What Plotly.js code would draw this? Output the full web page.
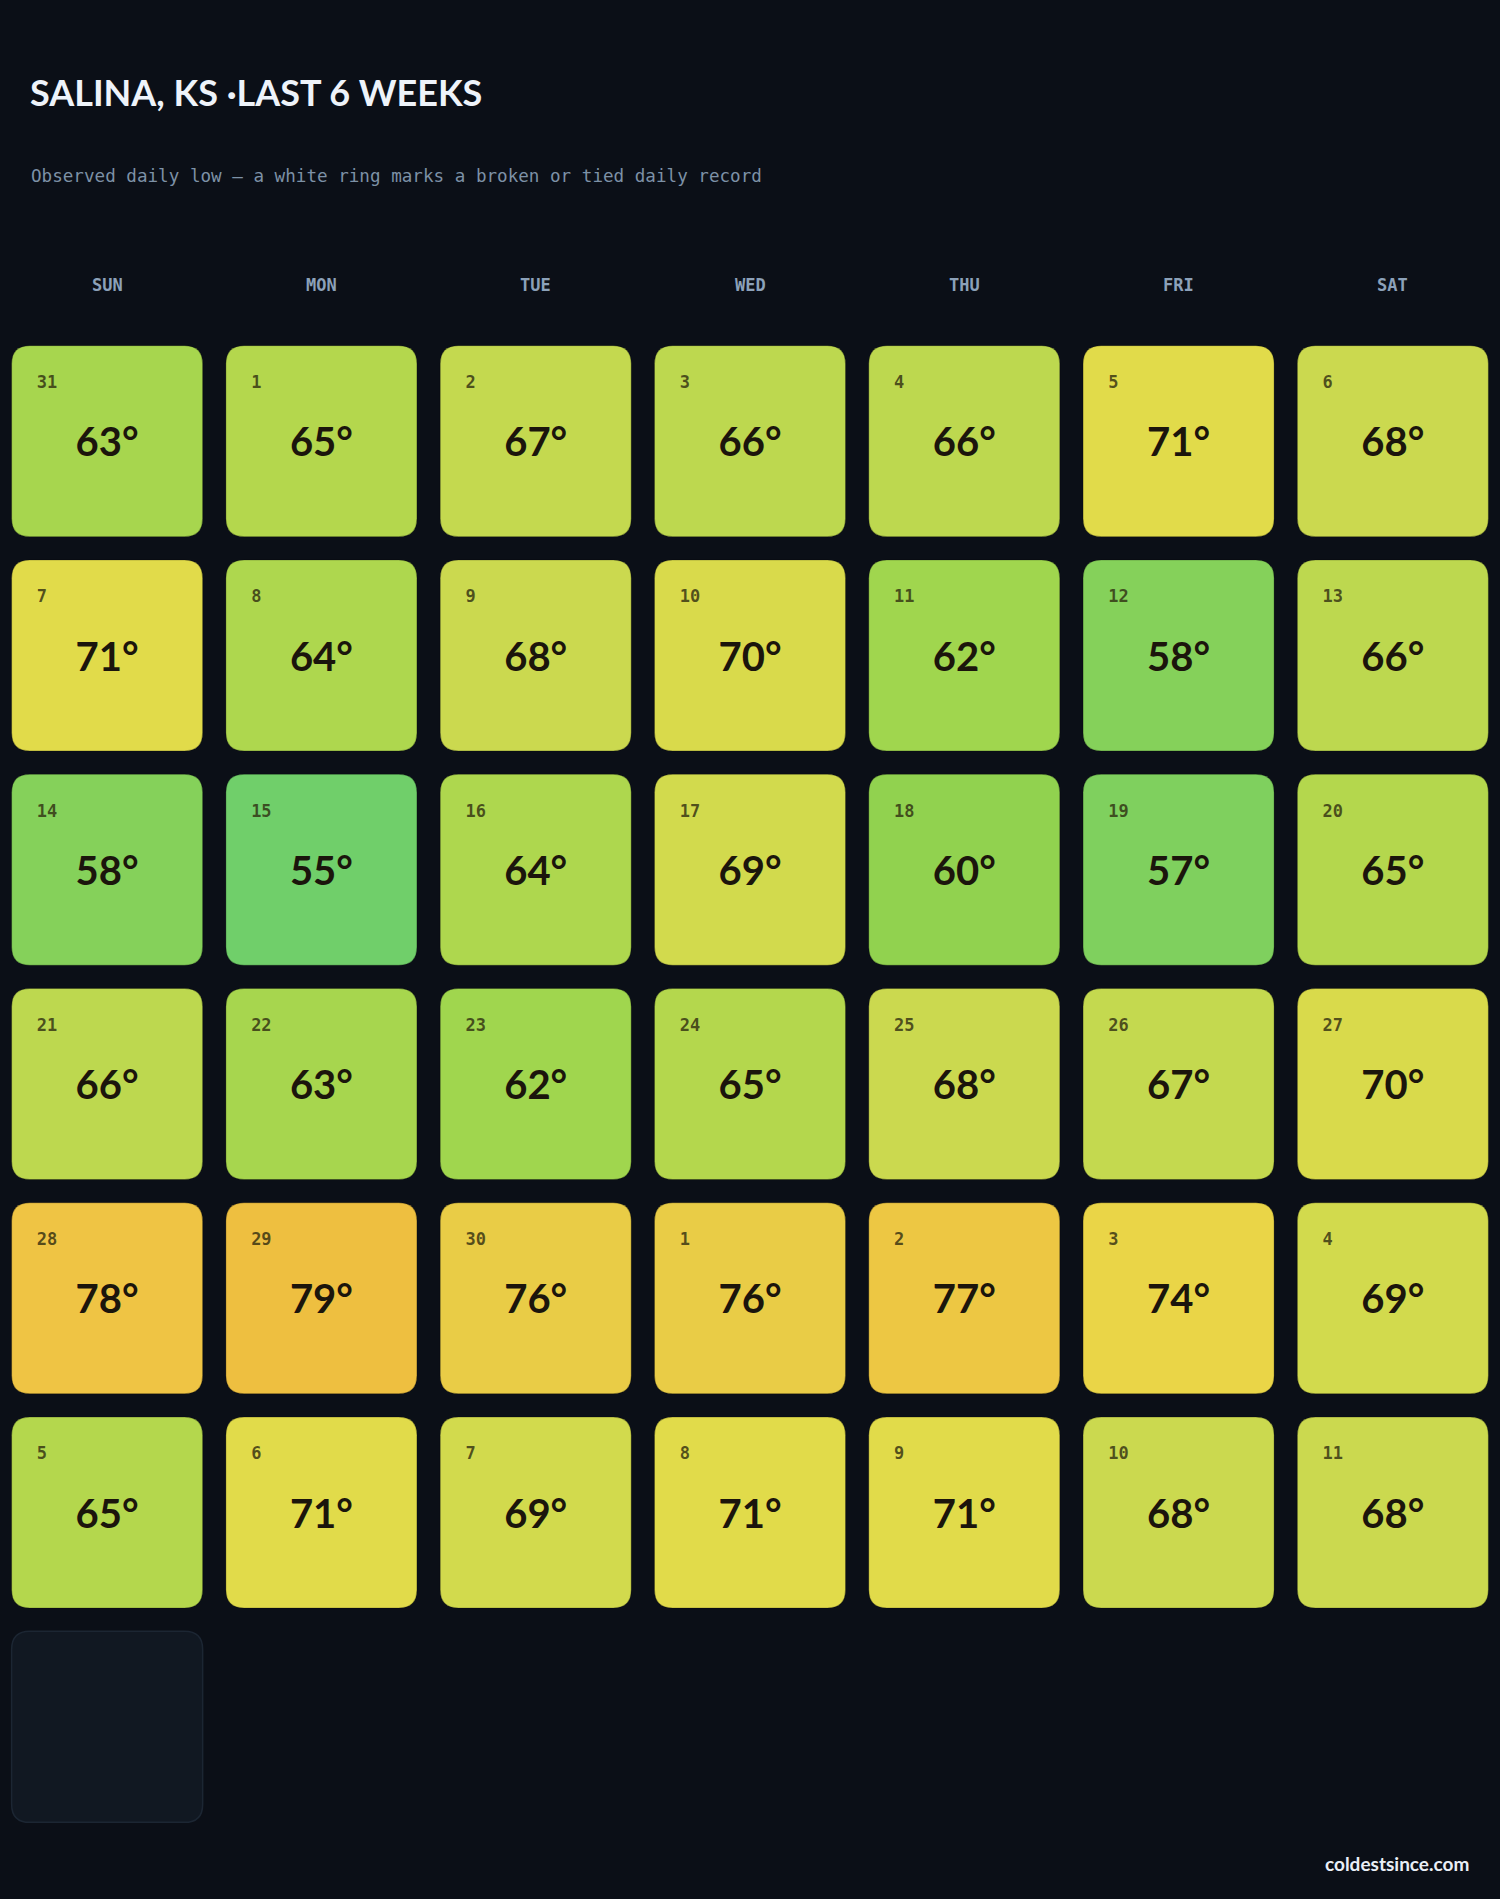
<!DOCTYPE html>
<html>
<head>
<meta charset="utf-8">
<script src="https://cdn.plot.ly/plotly-3.0.1.min.js"></script>
<style>
  html, body { margin: 0; padding: 0; background: #0b0f17; }
  #chart { width: 1500px; height: 1899px; }
</style>
</head>
<body>
<div id="chart"></div>
<script>
// ---- data ----
const weekdays = ['SUN', 'MON', 'TUE', 'WED', 'THU', 'FRI', 'SAT'];
const days = [31, 1, 2, 3, 4, 5, 6,
              7, 8, 9, 10, 11, 12, 13,
              14, 15, 16, 17, 18, 19, 20,
              21, 22, 23, 24, 25, 26, 27,
              28, 29, 30, 1, 2, 3, 4,
              5, 6, 7, 8, 9, 10, 11,
              null];
const lows = [63, 65, 67, 66, 66, 71, 68,
              71, 64, 68, 70, 62, 58, 66,
              58, 55, 64, 69, 60, 57, 65,
              66, 63, 62, 65, 68, 67, 70,
              78, 79, 76, 76, 77, 74, 69,
              65, 71, 69, 71, 71, 68, 68,
              null];
const records = []; // no broken or tied records in this window

// temperature -> colour scale
const colorStops = [
  [55, '#70cf6a'], [57, '#7fd05e'], [58, '#85d15a'], [60, '#91d24f'],
  [62, '#a0d64e'], [63, '#a7d64e'], [65, '#b4d74d'], [66, '#bdd84f'],
  [68, '#cbd94f'], [70, '#d9da4b'], [71, '#e1db4a'], [74, '#ead547'],
  [76, '#e9cc46'], [77, '#edc743'], [78, '#efc444'], [79, '#eebf40']
];

function hexToRgb(h) {
  return [parseInt(h.slice(1, 3), 16), parseInt(h.slice(3, 5), 16), parseInt(h.slice(5, 7), 16)];
}
function tempColor(t) {
  if (t <= colorStops[0][0]) return colorStops[0][1];
  for (let i = 1; i < colorStops.length; i++) {
    if (t <= colorStops[i][0]) {
      const [t0, c0] = colorStops[i - 1], [t1, c1] = colorStops[i];
      const f = (t - t0) / (t1 - t0);
      const a = hexToRgb(c0), b = hexToRgb(c1);
      const m = a.map((v, k) => Math.round(v + (b[k] - v) * f));
      return 'rgb(' + m.join(',') + ')';
    }
  }
  return colorStops[colorStops.length - 1][1];
}

// ---- geometry (data units; one column/row = 1) ----
const HALF = 0.4457;   // half cell size
const RAD = 0.085;     // corner radius

function roundedRect(cx, cy, h, r) {
  const x0 = cx - h, x1 = cx + h, y0 = cy - h, y1 = cy + h;
  return `M ${x0 + r},${y0} L ${x1 - r},${y0} Q ${x1},${y0} ${x1},${y0 + r} ` +
         `L ${x1},${y1 - r} Q ${x1},${y1} ${x1 - r},${y1} L ${x0 + r},${y1} ` +
         `Q ${x0},${y1} ${x0},${y1 - r} L ${x0},${y0 + r} Q ${x0},${y0} ${x0 + r},${y0} Z`;
}

const colIdx = days.map((d, i) => i % 7);
const rowIdx = days.map((d, i) => Math.floor(i / 7));

const shapes = days.map((d, i) => {
  const filled = lows[i] !== null;
  const isRec = records.includes(i);
  return {
    type: 'path', xref: 'x', yref: 'y', layer: 'below',
    path: roundedRect(colIdx[i], rowIdx[i], HALF, RAD),
    fillcolor: filled ? tempColor(lows[i]) : '#111822',
    line: filled ? { color: isRec ? '#ffffff' : 'rgba(0,0,0,0.25)', width: isRec ? 3 : 1 }
                 : { color: '#1c2633', width: 1.5 }
  };
});

const idxData = days.map((d, i) => i).filter(i => lows[i] !== null);

const tempTrace = {
  type: 'scatter', mode: 'text',
  x: idxData.map(i => colIdx[i]),
  y: idxData.map(i => rowIdx[i] + 0.024),
  text: idxData.map(i => lows[i] + '°'),
  textposition: 'middle center',
  textfont: { family: 'Lato, "Open Sans", sans-serif', size: 40, color: '#1b150c', weight: 700 },
  cliponaxis: false, hoverinfo: 'skip', showlegend: false
};

const dayTrace = {
  type: 'scatter', mode: 'text',
  x: idxData.map(i => colIdx[i] - 0.328),
  y: idxData.map(i => rowIdx[i] - 0.268),
  text: idxData.map(i => String(days[i])),
  textposition: 'middle right',
  textfont: { family: '"DejaVu Sans Mono", monospace', size: 17, color: 'rgba(45,42,15,0.78)', weight: 700 },
  cliponaxis: false, hoverinfo: 'skip', showlegend: false
};

const annotations = [
  {
    text: 'Observed daily low — a white ring marks a broken or tied daily record',
    xref: 'paper', yref: 'paper', x: 29 / 1500, y: (1834 - 175.5) / 1500,
    xanchor: 'left', yanchor: 'middle', showarrow: false,
    font: { family: '"DejaVu Sans Mono", monospace', size: 17.6, color: '#7d91a6' }
  },
  {
    text: 'coldestsince.com',
    xref: 'paper', yref: 'paper', x: 1471 / 1500, y: (1834 - 1863) / 1500,
    xanchor: 'right', yanchor: 'middle', showarrow: false,
    font: { family: 'Lato, sans-serif', size: 19, color: '#e9eef6', weight: 700 }
  }
].concat(weekdays.map((w, c) => ({
  text: w, xref: 'x', yref: 'paper', x: c, y: (1834 - 285) / 1500,
  xanchor: 'center', yanchor: 'middle', showarrow: false,
  font: { family: '"DejaVu Sans Mono", monospace', size: 17, color: '#8ca1b9', weight: 700 }
})));

const layout = {
  width: 1500, height: 1899,
  margin: { l: 0, r: 0, t: 334, b: 65, pad: 0 },
  paper_bgcolor: '#0b0f17', plot_bgcolor: '#0b0f17',
  title: {
    text: 'SALINA, KS ·LAST 6 WEEKS',
    font: { family: 'Lato, sans-serif', size: 36, color: '#eef3fa', weight: 700 },
    xref: 'container', yref: 'container',
    x: 30 / 1500, xanchor: 'left', y: 1 - 93 / 1899, yanchor: 'middle'
  },
  xaxis: { range: [-0.5, 6.5], visible: false, fixedrange: true },
  yaxis: { range: [6.5, -0.5], visible: false, fixedrange: true },
  shapes: shapes,
  annotations: annotations,
  showlegend: false
};

Plotly.newPlot('chart', [tempTrace, dayTrace], layout, { staticPlot: true, displayModeBar: false });
</script>
</body>
</html>
